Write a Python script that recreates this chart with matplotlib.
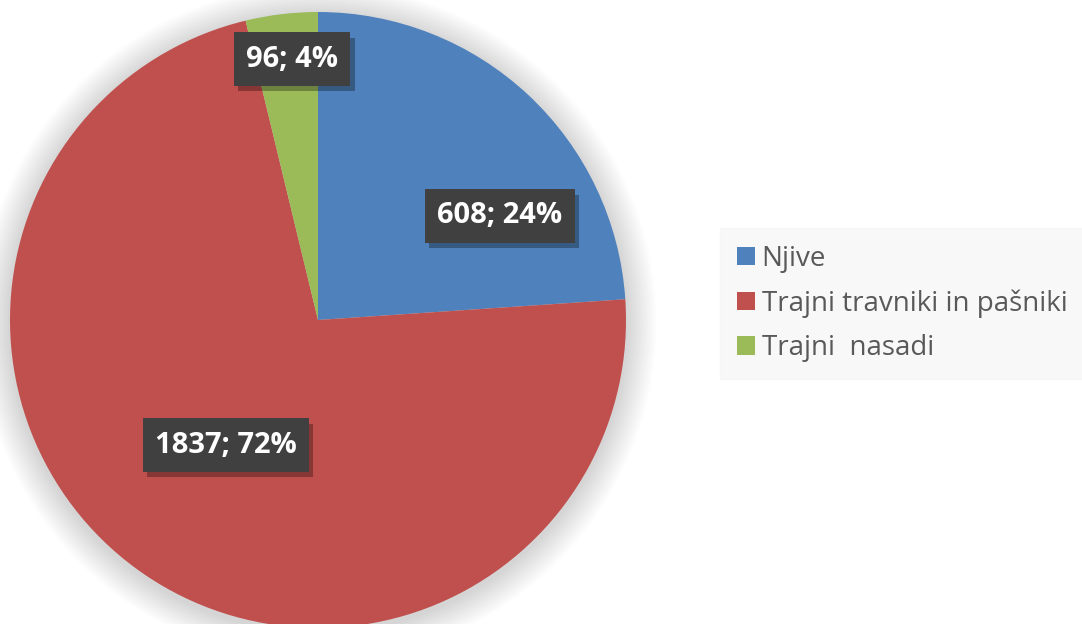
import matplotlib.pyplot as plt
from matplotlib.patches import Circle, Patch
import matplotlib.patheffects as pe

# data
categories = ['Njive', 'Trajni travniki in pašniki', 'Trajni  nasadi']
values = [608, 1837, 96]
shares = [24, 72, 4]
colors = ['#4f81bd', '#c0504d', '#9bbb59']

# label positions inside the pie (axes data coords, radius = 1)
label_pos = [(0.591, 0.338), (-0.299, -0.406), (-0.084, 0.847)]

W, H = 1082, 624
fig = plt.figure(figsize=(W / 100, H / 100), dpi=100)
fig.patch.set_facecolor('white')

# pie axes: centre ~ (318, 320) px, radius ~ 308 px
cx, cy, r = 318, 320, 308
ax = fig.add_axes([(cx - r) / W, (H - cy - r) / H, 2 * r / W, 2 * r / H])
ax.set_xlim(-1, 1)
ax.set_ylim(-1, 1)
ax.set_aspect('equal')
ax.axis('off')

# soft shadow around the pie
for i in range(14):
    ax.add_patch(Circle((0.0, -0.01), 1.0 + 0.007 * (14 - i), color='black',
                        alpha=0.012, lw=0, zorder=0, clip_on=False))

ax.pie(values, colors=colors, startangle=90, counterclock=False, radius=1.0,
       wedgeprops=dict(linewidth=0), frame=False)
ax.set_xlim(-1, 1)
ax.set_ylim(-1, 1)

for (x, y), v, s in zip(label_pos, values, shares):
    t = ax.text(x, y, f'{v}; {s}%', ha='center', va='center', fontsize=21,
                fontweight='bold', family='Open Sans', color='white', zorder=5,
                bbox=dict(boxstyle='square,pad=0.42', facecolor='#404040',
                          edgecolor='none'))
    t.get_bbox_patch().set_path_effects(
        [pe.SimplePatchShadow(offset=(3, -4), shadow_rgbFace='black', alpha=0.3),
         pe.Normal()])

handles = [Patch(facecolor=c, edgecolor='none') for c in colors]
leg = fig.legend(handles, categories, loc='upper left',
                 bbox_to_anchor=(720 / W, 1 - 228 / H), frameon=True,
                 fancybox=False, facecolor='#f7f7f7', edgecolor='#f7f7f7',
                 prop={'family': 'Open Sans', 'size': 20}, labelcolor='#595959',
                 handlelength=0.65, handleheight=0.65, handletextpad=0.25,
                 labelspacing=0.6, borderpad=0.6, borderaxespad=0)

fig.savefig('out.png', dpi=100)
